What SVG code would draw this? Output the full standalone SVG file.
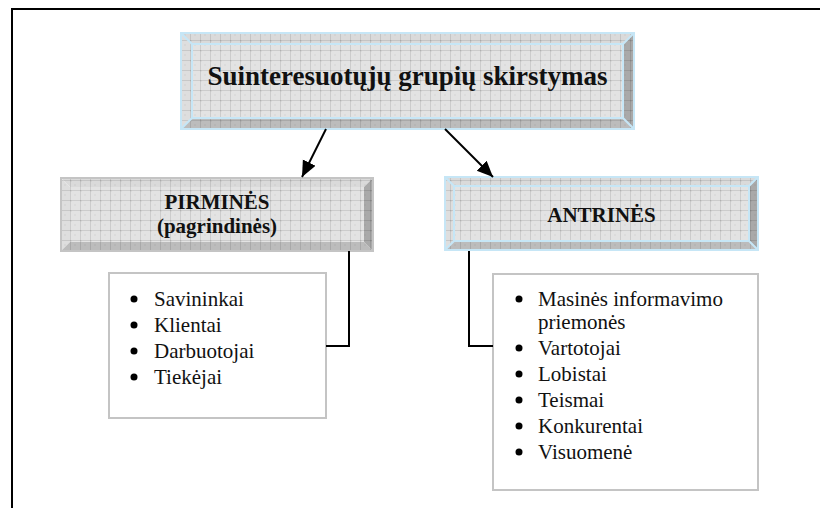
<svg xmlns="http://www.w3.org/2000/svg" width="820" height="508" viewBox="0 0 820 508">
  <style>
    .frame { stroke: #000; stroke-width: 2; fill: none; }
    .conn { stroke: #000; stroke-width: 2; fill: none; }
    .bev-top { fill: #dadada; }
    .bev-left { fill: #dedede; }
    .bev-bottom { fill: #bcbcbc; }
    .bev-right { fill: #a9a9a9; }
    .face { fill: #e3e3e3; }
    .texture { fill: url(#gridLines); }
    .edge-blue { fill: none; stroke: #c6e6f6; stroke-width: 2; }
    .edge-gray { fill: none; stroke: #c4c4c4; stroke-width: 2; }
    .head { font-family: "Liberation Serif", "Times New Roman", serif; font-weight: bold; fill: #111; text-anchor: middle; }
    .item { font-family: "Liberation Serif", "Times New Roman", serif; font-size: 21px; fill: #111; }
    .listbox { fill: #fff; stroke: #c4c4c4; stroke-width: 2; }
  </style>
  <defs>
    <pattern id="gridLines" width="10" height="10" patternUnits="userSpaceOnUse">
      <rect x="0" y="0" width="2" height="2" fill="#000" opacity="0.03"/>
      <rect x="4" y="4" width="2" height="2" fill="#000" opacity="0.03"/>
      <path d="M0 0.5H10M0.5 0V10" stroke="#000" stroke-opacity="0.1" stroke-width="1"/>
    </pattern>
    <marker id="arrow" markerUnits="userSpaceOnUse" markerWidth="18" markerHeight="18" refX="16" refY="7" orient="auto">
      <path d="M0 0L16 7L0 14Z" fill="#000"/>
    </marker>
  </defs>

  <rect width="820" height="508" fill="#fff"/>

  <!-- page frame: top and left rules -->
  <path class="frame" d="M11 9H820M12 8V508"/>

  <!-- title node -->
  <g id="node-title">
    <rect class="face" x="192" y="44" width="431" height="74"/>
    <polygon class="bev-top" points="181,33 634,33 623,44 192,44"/>
    <polygon class="bev-left" points="181,33 192,44 192,118 181,129"/>
    <polygon class="bev-bottom" points="181,129 192,118 623,118 634,129"/>
    <polygon class="bev-right" points="634,33 634,129 623,118 623,44"/>
    <rect class="texture" x="181" y="33" width="453" height="96"/>
    <rect class="edge-blue" x="181" y="33" width="453" height="96"/>
    <rect class="edge-blue" x="192" y="44" width="431" height="74"/>
    <path class="edge-blue" d="M181 33L192 44M634 33L623 44M181 129L192 118M634 129L623 118"/>
    <text class="head" x="407.5" y="85" font-size="27">Suinteresuotųjų grupių skirstymas</text>
  </g>

  <!-- primary group node -->
  <g id="node-primary">
    <rect class="face" x="70" y="187" width="294" height="55"/>
    <polygon class="bev-top" points="61,178 373,178 364,187 70,187"/>
    <polygon class="bev-left" points="61,178 70,187 70,242 61,251"/>
    <polygon class="bev-bottom" points="61,251 70,242 364,242 373,251"/>
    <polygon class="bev-right" points="373,178 373,251 364,242 364,187"/>
    <rect class="texture" x="61" y="178" width="312" height="73"/>
    <rect class="edge-gray" x="61" y="178" width="312" height="73"/>
    <text class="head" x="217" y="209" font-size="21">PIRMINĖS</text>
    <text class="head" x="217" y="233" font-size="21">(pagrindinės)</text>
  </g>

  <!-- secondary group node -->
  <g id="node-secondary">
    <rect class="face" x="454" y="186" width="295" height="55"/>
    <polygon class="bev-top" points="445,177 758,177 749,186 454,186"/>
    <polygon class="bev-left" points="445,177 454,186 454,241 445,250"/>
    <polygon class="bev-bottom" points="445,250 454,241 749,241 758,250"/>
    <polygon class="bev-right" points="758,177 758,250 749,241 749,186"/>
    <rect class="texture" x="445" y="177" width="313" height="73"/>
    <rect class="edge-blue" x="445" y="177" width="313" height="73"/>
    <rect class="edge-blue" x="454" y="186" width="295" height="55"/>
    <path class="edge-blue" d="M445 177L454 186M758 177L749 186M445 250L454 241M758 250L749 241"/>
    <text class="head" x="601.5" y="222" font-size="21">ANTRINĖS</text>
  </g>

  <!-- primary members list -->
  <g id="node-primary-list">
    <rect class="listbox" x="109" y="273" width="217" height="145"/>
    <g fill="#000">
      <circle cx="134" cy="299" r="3.5"/>
      <circle cx="134" cy="325" r="3.5"/>
      <circle cx="134" cy="351" r="3.5"/>
      <circle cx="134" cy="377" r="3.5"/>
    </g>
    <text class="item" x="154" y="306">Savininkai</text>
    <text class="item" x="154" y="332">Klientai</text>
    <text class="item" x="154" y="358">Darbuotojai</text>
    <text class="item" x="154" y="384">Tiekėjai</text>
  </g>

  <!-- secondary members list -->
  <g id="node-secondary-list">
    <rect class="listbox" x="493" y="274" width="265" height="216"/>
    <g fill="#000">
      <circle cx="519" cy="299" r="3.5"/>
      <circle cx="519" cy="348" r="3.5"/>
      <circle cx="519" cy="374" r="3.5"/>
      <circle cx="519" cy="400" r="3.5"/>
      <circle cx="519" cy="426" r="3.5"/>
      <circle cx="519" cy="452" r="3.5"/>
    </g>
    <text class="item" x="538" y="306">Masinės informavimo</text>
    <text class="item" x="538" y="329">priemonės</text>
    <text class="item" x="538" y="355">Vartotojai</text>
    <text class="item" x="538" y="381">Lobistai</text>
    <text class="item" x="538" y="407">Teismai</text>
    <text class="item" x="538" y="433">Konkurentai</text>
    <text class="item" x="538" y="459">Visuomenė</text>
  </g>

  <!-- connectors -->
  <g id="connectors">
    <line class="conn" x1="326" y1="129" x2="302" y2="177" marker-end="url(#arrow)"/>
    <line class="conn" x1="445" y1="129" x2="493" y2="177" marker-end="url(#arrow)"/>
    <polyline class="conn" points="326,346 349,346 349,251"/>
    <polyline class="conn" points="469,251 469,346 493,346"/>
  </g>
</svg>
